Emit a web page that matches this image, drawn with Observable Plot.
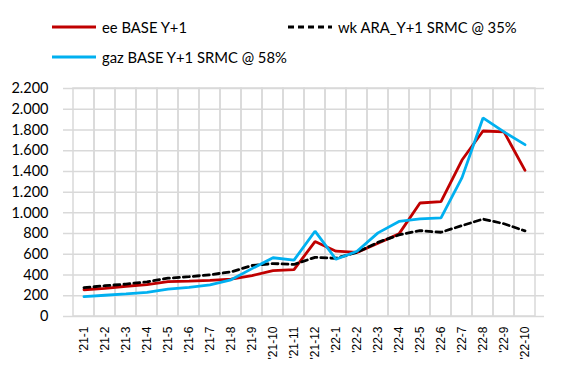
<!DOCTYPE html>
<html>
<head>
<meta charset="utf-8">
<script src="https://cdn.jsdelivr.net/npm/d3@7"></script>
<script src="https://cdn.jsdelivr.net/npm/@observablehq/plot@0.6"></script>
<style>
  body { margin: 0; background: #fff; }
  #legend { position: relative; width: 564px; height: 70px; font-family: Lato, "Open Sans", sans-serif; font-size: 14.8px; color: #000; }
  .item { position: absolute; display: flex; align-items: center; white-space: nowrap; height: 16px; }
  .item svg { display: block; margin-right: 4px; }
</style>
</head>
<body>
<div id="legend"></div>
<div id="chart"></div>
<script>
const months = ["'21-1","'21-2","'21-3","'21-4","'21-5","'21-6","'21-7","'21-8","'21-9","'21-10","'21-11","'21-12",
                "'22-1","'22-2","'22-3","'22-4","'22-5","'22-6","'22-7","'22-8","'22-9","'22-10"];
const eeBase  = [258, 272, 292, 308, 337, 342, 348, 360, 395, 443, 452, 723, 630, 619, 707, 797, 1095, 1108, 1510, 1790, 1781, 1410];
const wkAra   = [278, 297, 313, 335, 370, 384, 403, 430, 492, 511, 502, 571, 562, 619, 716, 787, 829, 813, 877, 940, 895, 826];
const gazBase = [192, 205, 218, 233, 265, 282, 305, 354, 462, 567, 544, 823, 552, 629, 807, 917, 942, 952, 1340, 1916, 1781, 1658];
const yTicks  = [0, 200, 400, 600, 800, 1000, 1200, 1400, 1600, 1800, 2000, 2200];
const seriesNames  = ["ee BASE Y+1", "wk ARA_Y+1 SRMC @ 35%", "gaz BASE Y+1 SRMC @ 58%"];
const seriesColors = ["#c00000", "#000000", "#00b0f0"];
const seriesDash   = [null, "6,4", null];

// legend
const legendPos = [{left: 50, top: 19}, {left: 286, top: 19}, {left: 50, top: 49}];
const legend = document.getElementById("legend");
seriesNames.forEach((name, i) => {
  const div = document.createElement("div");
  div.className = "item";
  div.style.left = legendPos[i].left + "px";
  div.style.top = legendPos[i].top + "px";
  const dash = seriesDash[i] ? `stroke-dasharray="${seriesDash[i]}"` : "";
  div.innerHTML = `<svg width="48" height="10"><line x1="2" x2="46" y1="5" y2="5" stroke="${seriesColors[i]}" stroke-width="3" ${dash}/></svg><span>${name}</span>`;
  legend.appendChild(div);
});

const itFormat = d3.formatLocale({decimal: ",", thousands: ".", grouping: [3], currency: ["", "€"]}).format(",");

const lineOf = (vals, i) => Plot.line(months, {
  x: d => d,
  y: (d, j) => vals[j],
  stroke: seriesColors[i],
  strokeWidth: 2.8,
  strokeDasharray: seriesDash[i] || undefined,
  strokeLinejoin: "miter"
});

const chart = Plot.plot({
  width: 564,
  height: 309,
  marginLeft: 63,
  marginRight: 20,
  marginTop: 18,
  marginBottom: 63,
  x: {type: "band", domain: months, padding: 0, label: null},
  y: {domain: [0, 2200], label: null},
  marks: [
    Plot.cell(months, {x: d => d, fill: "none", stroke: "#d9d9d9", strokeWidth: 1.5}),
    Plot.ruleY(yTicks, {stroke: "#d9d9d9", strokeWidth: 1.5}),
    Plot.axisY({ticks: yTicks, tickSize: 0, tickPadding: 15, tickFormat: itFormat, label: null,
                fontSize: 14.5, fontFamily: "Lato, sans-serif", fill: "#000"}),
    Plot.axisX({tickSize: 0, tickRotate: -90, tickPadding: 10, label: null,
                fontSize: 12, fontFamily: "Liberation Sans, Arial, sans-serif", fill: "#000"}),
    lineOf(eeBase, 0),
    lineOf(wkAra, 1),
    lineOf(gazBase, 2)
  ]
});
document.getElementById("chart").appendChild(chart);
</script>
</body>
</html>
